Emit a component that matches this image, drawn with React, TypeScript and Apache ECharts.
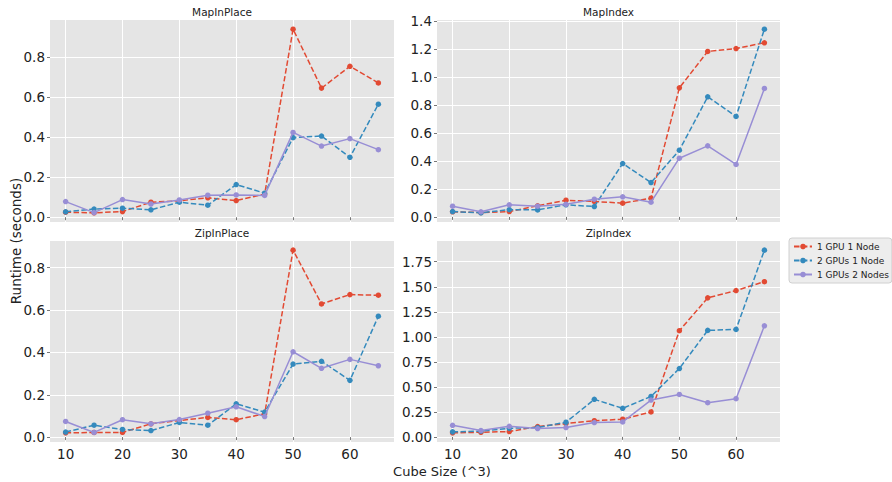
import React, { useEffect, useRef } from "react";
import * as echarts from "echarts";

const cubeSizes = [10, 15, 20, 25, 30, 35, 40, 45, 50, 55, 60, 65];
const xTicks = [10, 20, 30, 40, 50, 60];
const seriesNames = ["1 GPU 1 Node", "2 GPUs 1 Node", "1 GPUs 2 Nodes"];
const colors = ["#E24A33", "#348ABD", "#988ED5"];

const mapInPlace1G1N = [0.025, 0.022, 0.028, 0.075, 0.082, 0.097, 0.083, 0.115, 0.938, 0.644, 0.753, 0.67];
const mapInPlace2G1N = [0.027, 0.041, 0.045, 0.037, 0.075, 0.06, 0.163, 0.12, 0.397, 0.405, 0.299, 0.564];
const mapInPlace1G2N = [0.078, 0.023, 0.088, 0.066, 0.086, 0.11, 0.111, 0.109, 0.423, 0.355, 0.392, 0.337];

const mapIndex1G1N = [0.036, 0.031, 0.038, 0.079, 0.119, 0.11, 0.098, 0.133, 0.921, 1.181, 1.202, 1.243];
const mapIndex2G1N = [0.038, 0.029, 0.052, 0.05, 0.086, 0.074, 0.381, 0.245, 0.476, 0.857, 0.717, 1.34];
const mapIndex1G2N = [0.076, 0.036, 0.086, 0.076, 0.09, 0.126, 0.143, 0.105, 0.419, 0.507, 0.374, 0.917];

const zipInPlace1G1N = [0.02, 0.022, 0.022, 0.063, 0.078, 0.093, 0.082, 0.11, 0.883, 0.629, 0.673, 0.67];
const zipInPlace2G1N = [0.024, 0.056, 0.036, 0.031, 0.069, 0.056, 0.157, 0.118, 0.345, 0.358, 0.268, 0.571];
const zipInPlace1G2N = [0.074, 0.022, 0.082, 0.063, 0.083, 0.113, 0.143, 0.097, 0.403, 0.325, 0.367, 0.337];

const zipIndex1G1N = [0.04, 0.046, 0.053, 0.103, 0.133, 0.162, 0.176, 0.249, 1.061, 1.389, 1.462, 1.551];
const zipIndex2G1N = [0.05, 0.058, 0.086, 0.093, 0.146, 0.375, 0.285, 0.404, 0.683, 1.064, 1.074, 1.866];
const zipIndex1G2N = [0.116, 0.063, 0.106, 0.083, 0.093, 0.143, 0.149, 0.368, 0.424, 0.341, 0.381, 1.11];

const panelTitles = ["MapInPlace", "MapIndex", "ZipInPlace", "ZipIndex"];
const panelData = [
  [mapInPlace1G1N, mapInPlace2G1N, mapInPlace1G2N],
  [mapIndex1G1N, mapIndex2G1N, mapIndex1G2N],
  [zipInPlace1G1N, zipInPlace2G1N, zipInPlace1G2N],
  [zipIndex1G1N, zipIndex2G1N, zipIndex1G2N],
];
const yTicks = [
  [0, 0.2, 0.4, 0.6, 0.8],
  [0, 0.2, 0.4, 0.6, 0.8, 1.0, 1.2, 1.4],
  [0, 0.2, 0.4, 0.6, 0.8],
  [0, 0.25, 0.5, 0.75, 1.0, 1.25, 1.5, 1.75],
];
const yDecimals = [1, 1, 1, 2];

const grids = [
  { left: 50, top: 20, width: 344, height: 202 },
  { left: 437, top: 20, width: 343, height: 202 },
  { left: 50, top: 241, width: 344, height: 201 },
  { left: 437, top: 241, width: 343, height: 201 },
];

function pad(min: number, max: number) {
  const m = (max - min) * 0.05;
  return [min - m, max + m];
}

export default function App() {
  const ref = useRef<HTMLDivElement>(null);
  useEffect(() => {
    if (!ref.current) return;
    const chart = echarts.init(ref.current, undefined, { renderer: "svg" });
    const [xMin, xMax] = pad(Math.min(...cubeSizes), Math.max(...cubeSizes));
    const xAxes: any[] = [];
    const yAxes: any[] = [];
    const series: any[] = [];
    const graphics: any[] = [];
    grids.forEach((g, i) => {
      const all = panelData[i].flat();
      const [yMin, yMax] = pad(Math.min(...all), Math.max(...all));
      const bottomRow = i >= 2;
      xAxes.push({
        type: "value",
        gridIndex: i,
        min: xMin,
        max: xMax,
        axisLine: { show: false },
        axisTick: { show: true, customValues: xTicks, length: 3, lineStyle: { color: "#777" } },
        axisLabel: {
          show: bottomRow,
          customValues: xTicks,
          fontSize: 13.5,
          color: "#222",
          fontFamily: "DejaVu Sans",
          margin: 5,
        },
        splitLine: { show: true, lineStyle: { color: "#ffffff", width: 1 } },
      });
      yAxes.push({
        type: "value",
        gridIndex: i,
        min: yMin,
        max: yMax,
        axisLine: { show: false },
        axisTick: { show: true, customValues: yTicks[i], length: 3, lineStyle: { color: "#777" } },
        axisLabel: {
          customValues: yTicks[i],
          fontSize: 13.5,
          color: "#222",
          fontFamily: "DejaVu Sans",
          margin: 5,
          formatter: (v: number) => v.toFixed(yDecimals[i]),
        },
        splitLine: { show: true, lineStyle: { color: "#ffffff", width: 1 } },
      });
      graphics.push({
        type: "rect",
        shape: { x: g.left, y: g.top, width: g.width, height: g.height },
        style: { fill: "#E5E5E5" },
        z: -10,
        silent: true,
      });
      graphics.push({
        type: "text",
        x: g.left + g.width / 2,
        y: g.top - 8,
        style: {
          text: panelTitles[i],
          fontSize: 10.5,
          fontFamily: "DejaVu Sans",
          fill: "#222",
          align: "center",
          verticalAlign: "middle",
        },
      });
      panelData[i].forEach((vals, s) => {
        series.push({
          name: seriesNames[s],
          type: "line",
          xAxisIndex: i,
          yAxisIndex: i,
          data: cubeSizes.map((x, k) => [x, vals[k]]),
          symbol: "circle",
          symbolSize: 5.5,
          showSymbol: true,
          color: colors[s],
          lineStyle: { width: 1.5, color: colors[s], type: s === 2 ? "solid" : [5.5, 2.4] },
          itemStyle: { color: colors[s] },
          z: 2 + s,
        });
      });
    });
    graphics.push({
      type: "text",
      x: 16,
      y: 241,
      rotation: Math.PI / 2,
      style: {
        text: "Runtime (seconds)",
        fontSize: 13.5,
        fontFamily: "DejaVu Sans",
        fill: "#222",
        align: "center",
        verticalAlign: "middle",
      },
    });
    graphics.push({
      type: "text",
      x: 442,
      y: 471,
      style: {
        text: "Cube Size (^3)",
        fontSize: 13,
        fontFamily: "DejaVu Sans",
        fill: "#222",
        align: "center",
        verticalAlign: "middle",
      },
    });
    chart.setOption({
      animation: false,
      backgroundColor: "#ffffff",
      grid: grids.map((g) => ({ ...g, containLabel: false })),
      xAxis: xAxes,
      yAxis: yAxes,
      series,
      graphic: graphics,
      legend: {
        data: seriesNames,
        orient: "vertical",
        left: 789,
        top: 238,
        itemWidth: 18,
        itemHeight: 7,
        itemGap: 5,
        padding: [4, 3, 4, 4],
        backgroundColor: "#EDEDED",
        borderColor: "#D0D0D0",
        borderWidth: 1,
        borderRadius: 3,
        textStyle: { fontSize: 9, color: "#222", fontFamily: "DejaVu Sans" },
      },
    });
    return () => chart.dispose();
  }, []);
  return (
    <div
      ref={ref}
      style={{ position: "fixed", left: 0, top: 0, width: 892, height: 482 }}
    />
  );
}
